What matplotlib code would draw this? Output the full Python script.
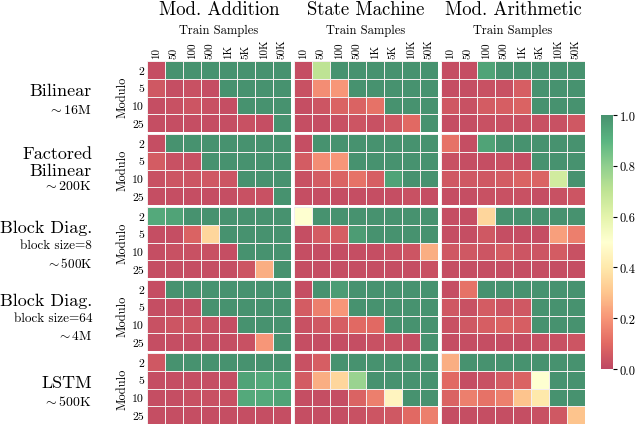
import numpy as np
import matplotlib
matplotlib.use("Agg")
import matplotlib.pyplot as plt
from matplotlib.colors import ListedColormap

plt.rcParams['font.family'] = ['cmr10', 'DejaVu Serif']
plt.rcParams['mathtext.fontset'] = 'cm'
plt.rcParams['axes.unicode_minus'] = False
plt.rcParams['axes.formatter.use_mathtext'] = True

# -------------------------
# Data
# -------------------------
tasks = ["Mod. Addition", "State Machine", "Mod. Arithmetic"]
train_samples = ["10", "50", "100", "500", "1K", "5K", "10K", "50K"]
modulo = ["2", "5", "10", "25"]
model_names = ["Bilinear", "Factored\nBilinear", "Block Diag.", "Block Diag.", "LSTM"]
model_subs = [None, None, "block size=8", "block size=64", None]
model_sizes = [r"${\sim}$16M", r"${\sim}$200K", r"${\sim}$500K", r"${\sim}$4M", r"${\sim}$500K"]

bilinear_add = [[0.02, 1, 1, 1, 1, 1, 1, 1],
                [0.05, 0.02, 0.03, 0.02, 1, 1, 1, 1],
                [0.02, 0.03, 0.04, 0.03, 0.02, 1, 1, 1],
                [0.02, 0.02, 0.02, 0.02, 0.02, 0.03, 0.02, 1]]
bilinear_sm = [[0.02, 0.7, 1, 1, 1, 1, 1, 1],
               [0.03, 0.18, 0.2, 1, 1, 1, 1, 1],
               [0.02, 0.04, 0.08, 0.08, 0.12, 1, 1, 1],
               [0.02, 0.02, 0.03, 0.04, 0.03, 0.05, 0.1, 1]]
bilinear_arith = [[0.02, 0.02, 0.95, 1, 1, 1, 1, 1],
                  [0.02, 0.02, 0.03, 0.03, 0.07, 1, 1, 1],
                  [0.05, 0.03, 0.06, 0.07, 0.08, 1, 1, 1],
                  [0.02, 0.02, 0.03, 0.03, 0.03, 0.03, 0.03, 0.05]]

factored_add = [[0.02, 1, 1, 1, 1, 1, 1, 1],
                [0.06, 0.03, 0.03, 1, 1, 1, 1, 1],
                [0.03, 0.04, 0.04, 0.05, 0.04, 1, 1, 1],
                [0.02, 0.02, 0.02, 0.02, 0.02, 0.03, 0.03, 1]]
factored_sm = [[0.02, 1, 1, 1, 1, 1, 1, 1],
               [0.06, 0.18, 0.2, 1, 1, 1, 1, 1],
               [0.03, 0.06, 0.08, 0.12, 0.07, 0.95, 1, 1],
               [0.02, 0.02, 0.02, 0.02, 0.02, 0.02, 0.03, 0.02]]
factored_arith = [[0.12, 0.02, 0.95, 1, 1, 1, 1, 1],
                  [0.03, 0.02, 0.02, 0.03, 0.02, 1, 1, 1],
                  [0.05, 0.05, 0.05, 0.06, 0.08, 0.08, 0.65, 1],
                  [0.02, 0.02, 0.03, 0.03, 0.03, 0.02, 0.03, 0.04]]

bd8_add = [[0.93, 0.95, 1, 1, 1, 1, 1, 1],
           [0.02, 0.02, 0.08, 0.35, 1, 1, 1, 1],
           [0.02, 0.03, 0.03, 0.03, 0.02, 1, 1, 1],
           [0.02, 0.02, 0.02, 0.02, 0.02, 0.04, 0.25, 1]]
bd8_sm = [[0.5, 1, 1, 1, 1, 1, 1, 1],
          [0.02, 0.06, 0.07, 0.97, 1, 1, 1, 1],
          [0.02, 0.02, 0.02, 0.02, 0.02, 0.03, 0.04, 0.25],
          [0.02, 0.02, 0.02, 0.02, 0.02, 0.02, 0.02, 0.03]]
bd8_arith = [[0.02, 0.02, 0.35, 1, 1, 1, 1, 1],
             [0.02, 0.02, 0.05, 0.02, 0.02, 0.02, 0.22, 0.15],
             [0.05, 0.05, 0.04, 0.06, 0.04, 0.04, 0.06, 0.03],
             [0.02, 0.02, 0.02, 0.02, 0.02, 0.02, 0.02, 0.02]]

bd64_add = [[0.02, 1, 1, 1, 1, 1, 1, 1],
            [0.02, 0.02, 0.02, 1, 1, 1, 1, 1],
            [0.03, 0.04, 0.04, 0.03, 0.02, 1, 1, 1],
            [0.02, 0.02, 0.02, 0.02, 0.02, 0.03, 0.2, 1]]
bd64_sm = [[0.02, 1, 0.97, 1, 1, 1, 1, 1],
           [0.06, 0.15, 0.2, 1, 1, 1, 1, 1],
           [0.03, 0.05, 0.07, 0.1, 0.1, 1, 1, 1],
           [0.02, 0.02, 0.02, 0.02, 0.03, 0.03, 0.02, 1]]
bd64_arith = [[0.02, 0.12, 1, 1, 1, 1, 1, 1],
              [0.05, 0.03, 0.06, 0.04, 0.05, 1, 1, 1],
              [0.03, 0.05, 0.07, 0.08, 0.07, 1, 1, 1],
              [0.02, 0.02, 0.02, 0.02, 0.02, 0.03, 0.03, 0.04]]

lstm_add = [[0.05, 1, 1, 1, 1, 1, 1, 1],
            [0.02, 0.02, 0.02, 0.02, 0.02, 0.95, 0.93, 0.95],
            [0.02, 0.02, 0.03, 0.03, 0.03, 0.93, 0.93, 0.95],
            [0.02, 0.02, 0.02, 0.02, 0.02, 0.02, 0.02, 0.02]]
lstm_sm = [[0.03, 0.07, 1, 1, 1, 1, 1, 1],
           [0.06, 0.25, 0.35, 0.78, 1, 1, 1, 1],
           [0.02, 0.02, 0.02, 0.08, 0.15, 0.45, 1, 1],
           [0.02, 0.02, 0.02, 0.03, 0.04, 0.05, 0.1, 0.15]]
lstm_arith = [[0.25, 1, 1, 1, 1, 1, 1, 1],
              [0.1, 0.02, 0.03, 0.06, 0.08, 0.5, 1, 1],
              [0.08, 0.15, 0.12, 0.15, 0.3, 0.4, 1, 1],
              [0.02, 0.02, 0.02, 0.02, 0.02, 0.03, 0.05, 0.3]]

grid = [
    [bilinear_add, bilinear_sm, bilinear_arith],
    [factored_add, factored_sm, factored_arith],
    [bd8_add, bd8_sm, bd8_arith],
    [bd64_add, bd64_sm, bd64_arith],
    [lstm_add, lstm_sm, lstm_arith],
]

# -------------------------
# Colormap: faded RdYlGn
# -------------------------
a = 0.72
base = plt.get_cmap("RdYlGn")(np.linspace(0, 1, 256))
base[:, :3] = a * base[:, :3] + (1 - a)
cmap = ListedColormap(base)

W, H = 640, 427
fig = plt.figure(figsize=(W / 100, H / 100), dpi=100)

def px(x0, y0, w, h):
    return [x0 / W, 1 - (y0 + h) / H, w / W, h / H]

def fy(y):
    return 1 - y / H

col_x = [147, 294, 441]
row_y = [62, 135, 208, 281, 354]
pw, ph = 144, 71

mesh = None
for i in range(5):
    for j in range(3):
        ax = fig.add_axes(px(col_x[j], row_y[i], pw, ph))
        vals = np.array(grid[i][j])
        mesh = ax.pcolormesh(vals, cmap=cmap, vmin=0, vmax=1,
                             edgecolors="#f4eeee", linewidth=0.7)
        ax.set_xlim(0, 8)
        ax.set_ylim(4, 0)
        for s in ax.spines.values():
            s.set_visible(False)
        ax.tick_params(length=0, pad=2)
        if j == 0:
            ax.set_yticks(np.arange(4) + 0.5)
            ax.set_yticklabels(modulo, fontsize=8.5)
            ax.set_ylabel("Modulo", fontsize=9, labelpad=3)
        else:
            ax.set_yticks([])
        if i == 0:
            ax.xaxis.tick_top()
            ax.xaxis.set_label_position("top")
            ax.set_xticks(np.arange(8) + 0.5)
            ax.set_xticklabels(train_samples, rotation=90, fontsize=8)
            ax.set_xlabel("Train Samples", fontsize=9, labelpad=4)
            ax.set_title(tasks[j], fontsize=13.5, pad=7)
        else:
            ax.set_xticks([])

# model labels on the left
for i in range(5):
    yc = row_y[i] + ph / 2
    name, sub, size = model_names[i], model_subs[i], model_sizes[i]
    if sub is not None:
        fig.text(92 / W, fy(yc - 15.5), name, ha="right", va="center", fontsize=13)
        fig.text(92 / W, fy(yc + 2), sub, ha="right", va="center", fontsize=9.5)
        fig.text(92 / W, fy(yc + 20), size, ha="right", va="center", fontsize=9.5)
    elif "\n" in name:
        top, bot = name.split("\n")
        fig.text(92 / W, fy(yc - 16), top, ha="right", va="center", fontsize=13)
        fig.text(92 / W, fy(yc + 0.5), bot, ha="right", va="center", fontsize=13)
        fig.text(92 / W, fy(yc + 16.5), size, ha="right", va="center", fontsize=10)
    else:
        fig.text(92 / W, fy(yc - 6), name, ha="right", va="center", fontsize=13)
        fig.text(92 / W, fy(yc + 13), size, ha="right", va="center", fontsize=10)

cax = fig.add_axes(px(601, 116, 12, 254))
cb = fig.colorbar(mesh, cax=cax)
cb.outline.set_visible(False)
cb.set_ticks([0, 0.2, 0.4, 0.6, 0.8, 1.0])
cb.ax.tick_params(labelsize=9, length=3, width=0.8, pad=2)
cb.ax.yaxis.set_major_formatter(matplotlib.ticker.FormatStrFormatter("%.1f"))

fig.savefig("out.png", dpi=100)
